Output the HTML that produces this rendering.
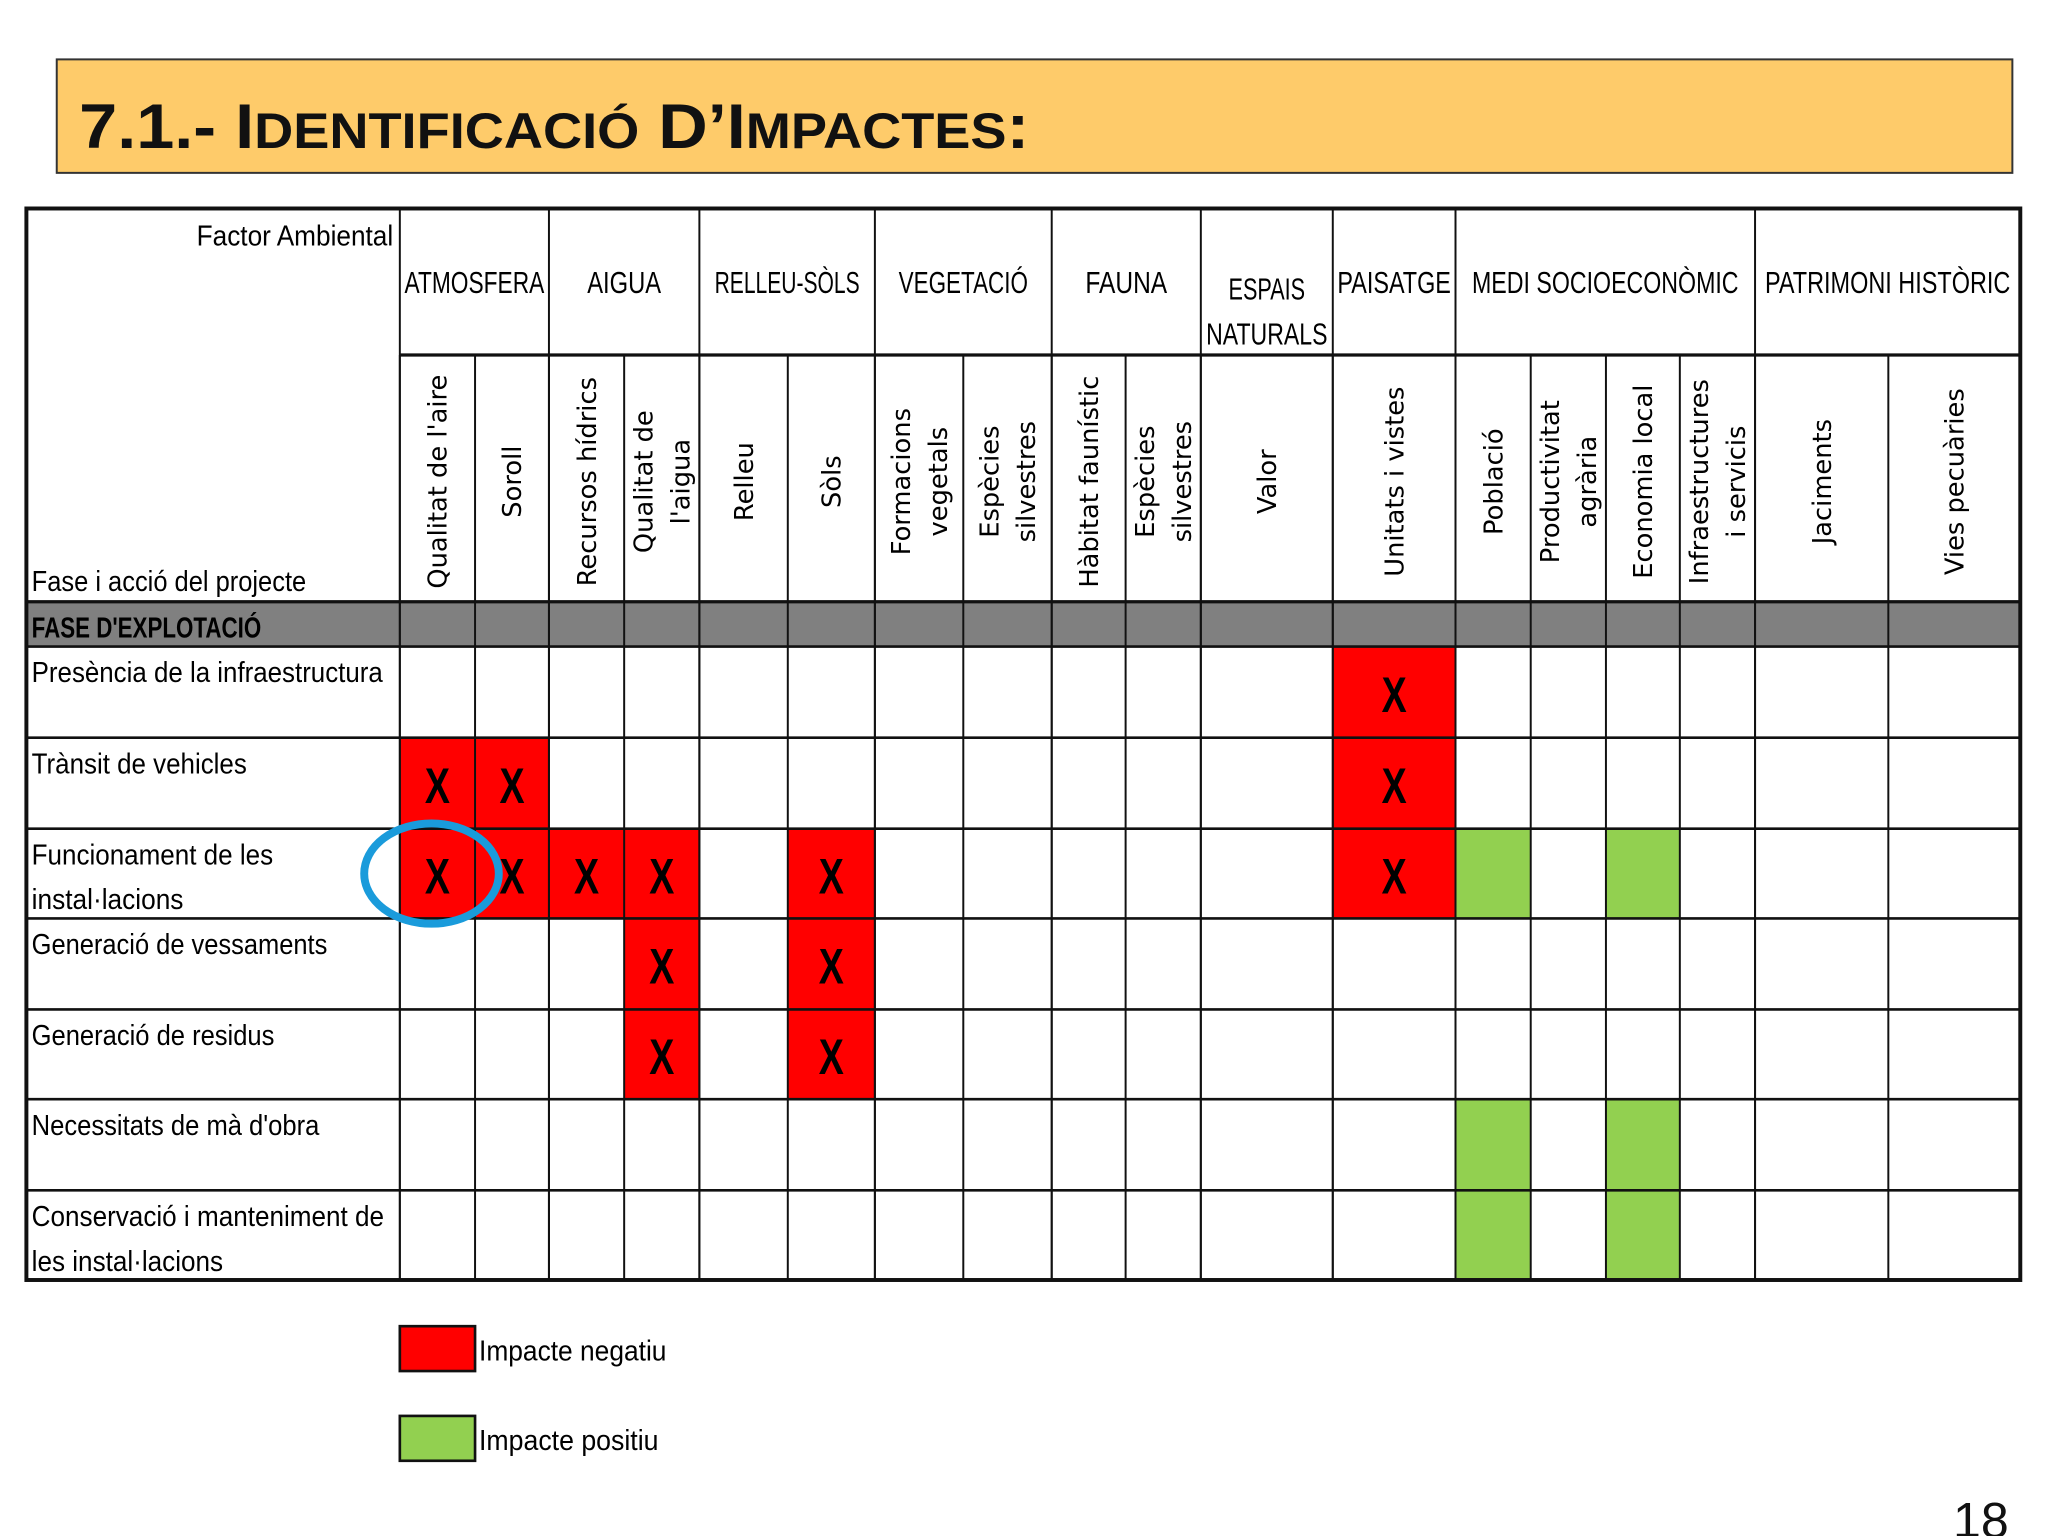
<!DOCTYPE html>
<html><head><meta charset="utf-8">
<style>
html,body{margin:0;padding:0;background:#fff;}
svg{display:block;}
.c{font-family:"Liberation Sans Narrow","Liberation Sans",sans-serif;}
.v{font-family:"DejaVu Sans","Liberation Sans",sans-serif;}
</style></head>
<body>
<svg id="chart" width="2048" height="1536" viewBox="0 0 1552 1164" xmlns="http://www.w3.org/2000/svg">
<rect x="0" y="0" width="1552" height="1164" fill="#fff"/>
<g>
<rect x="43" y="45" width="1482" height="86" fill="#FECB6A" stroke="#333" stroke-width="1.5"/>
<text id="title" x="60" y="112" font-family="Liberation Sans, sans-serif" font-weight="bold" font-size="48" fill="#111">7.1.- I<tspan font-size="38">DENTIFICACIÓ</tspan> D’I<tspan font-size="38">MPACTES</tspan>:</text>
</g>
<g id="grid"></g>
<g>
<rect x="303" y="1005" width="57" height="34" fill="#FF0000" stroke="#111" stroke-width="2"/>
<text id="lg1" class="c" x="363" y="1031" font-size="22">Impacte negatiu</text>
<rect x="303" y="1073" width="57" height="34" fill="#92D050" stroke="#111" stroke-width="2"/>
<text id="lg2" class="c" x="363" y="1099" font-size="22">Impacte positiu</text>
</g>
<text x="1480" y="1165" font-family="Liberation Sans, sans-serif" font-size="38" fill="#111">18</text>
</svg>
<script>
const groups = ["ATMOSFERA","AIGUA","RELLEU-SÒLS","VEGETACIÓ","FAUNA","ESPAIS NATURALS","PAISATGE","MEDI SOCIOECONÒMIC","PATRIMONI HISTÒRIC"];
const groupSpans = [2,2,2,2,2,1,1,4,2];
const factors = [["Qualitat de l'aire"],["Soroll"],["Recursos hídrics"],["Qualitat de","l'aigua"],["Relleu"],["Sòls"],["Formacions","vegetals"],["Espècies","silvestres"],["Hàbitat faunístic"],["Espècies","silvestres"],["Valor"],["Unitats i vistes"],["Població"],["Productivitat","agrària"],["Economia local"],["Infraestructures","i servicis"],["Jaciments"],["Vies pecuàries"]];
const actions = [["Presència de la infraestructura"],["Trànsit de vehicles"],["Funcionament de les","instal·lacions"],["Generació de vessaments"],["Generació de residus"],["Necessitats de mà d'obra"],["Conservació i manteniment de","les instal·lacions"]];
// N = negative impact (X), P = positive impact, . = none
const impacts = [
"...........N......",
"NN.........N......",
"NNNN.N.....NP.P...",
"...N.N............",
"...N.N............",
"............P.P...",
"............P.P..."];
const colEdges=[303,360,416,473,530,597,663,730,797,853,910,1010,1103,1160,1217,1273,1330,1431,1531];
const rowEdges=[490,559,628,696,765,833,902,970];
const NS="http://www.w3.org/2000/svg";
const g=document.getElementById('grid');
function mk(t,a,p){const e=document.createElementNS(NS,t);for(const k in a)e.setAttribute(k,a[k]);(p||g).appendChild(e);return e;}
function fit(el,width,ax){
  const w=el.getComputedTextLength();
  if(w>0){el.setAttribute('transform',`translate(${ax} 0) scale(${width/w} 1) translate(${-ax} 0)`);}
}
// cells
impacts.forEach((row,r)=>{
  for(let c=0;c<row.length;c++){
    const ch=row[c];if(ch==='.')continue;
    const x0=colEdges[c],x1=colEdges[c+1],y0=rowEdges[r],y1=rowEdges[r+1];
    const rc=mk('rect',{x:x0,y:y0,width:x1-x0,height:y1-y0,fill:ch==='N'?'#FF0000':'#92D050'});
    
    
    if(ch==='N'){
      const cx=(x0+x1)/2;
      const t=mk('text',{x:cx,y:(y0+y1)/2+15,'text-anchor':'middle','font-size':38,'font-weight':'bold',class:'c'});
      t.textContent='X';
      
      
      fit(t,19,cx);
    }
  }
});
// gray phase row
const ph=mk('rect',{x:20,y:456,width:1511,height:34,fill:'#808080'});


const pt=mk('text',{x:24,y:483,'font-size':22,'font-weight':'bold',class:'c'});
pt.textContent="FASE D'EXPLOTACIÓ";


fit(pt,174,24);
// grid lines
function line(x1,y1,x2,y2,w){const l=mk('line',{x1,y1,x2,y2,stroke:'#111','stroke-width':w||1.5});}
rowEdges.forEach(y=>line(20,y,1531,y,2));
line(20,456,1531,456,2.5);
line(303,269,1531,269,2.5);
colEdges.forEach(x=>line(x,269,x,970,1.5));
let acc=0;const gEdges=[303];groupSpans.forEach(n=>{acc+=n;gEdges.push(colEdges[acc]);});
gEdges.forEach(x=>line(x,158,x,970,1.5));
const outer=mk('rect',{x:20,y:158,width:1511,height:812,fill:'none',stroke:'#111','stroke-width':3});


// corner labels
let t=mk('text',{x:149,y:186,'font-size':22,class:'c'});t.textContent='Factor Ambiental';


fit(t,149,149);
t=mk('text',{x:24,y:448,'font-size':22,class:'c'});t.textContent='Fase i acció del projecte';


fit(t,208,24);
// group headers
const groupWidths={"ATMOSFERA":106,"AIGUA":56,"RELLEU-SÒLS":110,"VEGETACIÓ":98,"FAUNA":62,"ESPAIS":58,"NATURALS":92,"PAISATGE":86,"MEDI SOCIOECONÒMIC":202,"PATRIMONI HISTÒRIC":186};
let s=0;
groups.forEach((name,i)=>{
  const x0=colEdges[s],x1=colEdges[s+groupSpans[i]];s+=groupSpans[i];
  const cx=(x0+x1)/2;
  const parts=name==='ESPAIS NATURALS'?['ESPAIS','NATURALS']:[name];
  parts.forEach((p,k)=>{
    const y=parts.length>1?227+k*34:222;
    const tx=mk('text',{x:cx,y:y,'text-anchor':'middle','font-size':23,class:'c'});
    tx.textContent=p;
    
    
    fit(tx,groupWidths[p]||p.length*10,cx);
  });
});
// factor headers rotated
factors.forEach((lines,c)=>{
  const cx=(colEdges[c]+colEdges[c+1])/2;
  lines.forEach((ln,k)=>{
    const off=lines.length>1?(k===0?-14:14):0;
    const x=cx+off+7,y=365;
    const tx=mk('text',{x:x,y:y,'text-anchor':'middle','font-size':19.5,class:'v',transform:`rotate(-90 ${x} ${y})`});
    tx.textContent=ln;
    
    
  });
});
// action labels
const actionWidths={"Presència de la infraestructura":266,"Trànsit de vehicles":163,"Funcionament de les":183,"instal·lacions":115,"Generació de vessaments":224,"Generació de residus":184,"Necessitats de mà d'obra":218,"Conservació i manteniment de":267,"les instal·lacions":145};
actions.forEach((lines,r)=>{
  lines.forEach((ln,k)=>{
    const tx=mk('text',{x:24,y:rowEdges[r]+27+k*34,'font-size':22,class:'c'});
    tx.textContent=ln;
    
    
    fit(tx,actionWidths[ln]||ln.length*9,24);
  });
});
fit(document.getElementById('lg1'),142,363);
fit(document.getElementById('lg2'),136,363);
fit(document.getElementById('title'),720,60);
// highlight circle
const circ=mk('ellipse',{cx:327,cy:662,rx:51,ry:38,fill:'none',stroke:'#1A9BDB','stroke-width':6});


</script>
</body></html>
